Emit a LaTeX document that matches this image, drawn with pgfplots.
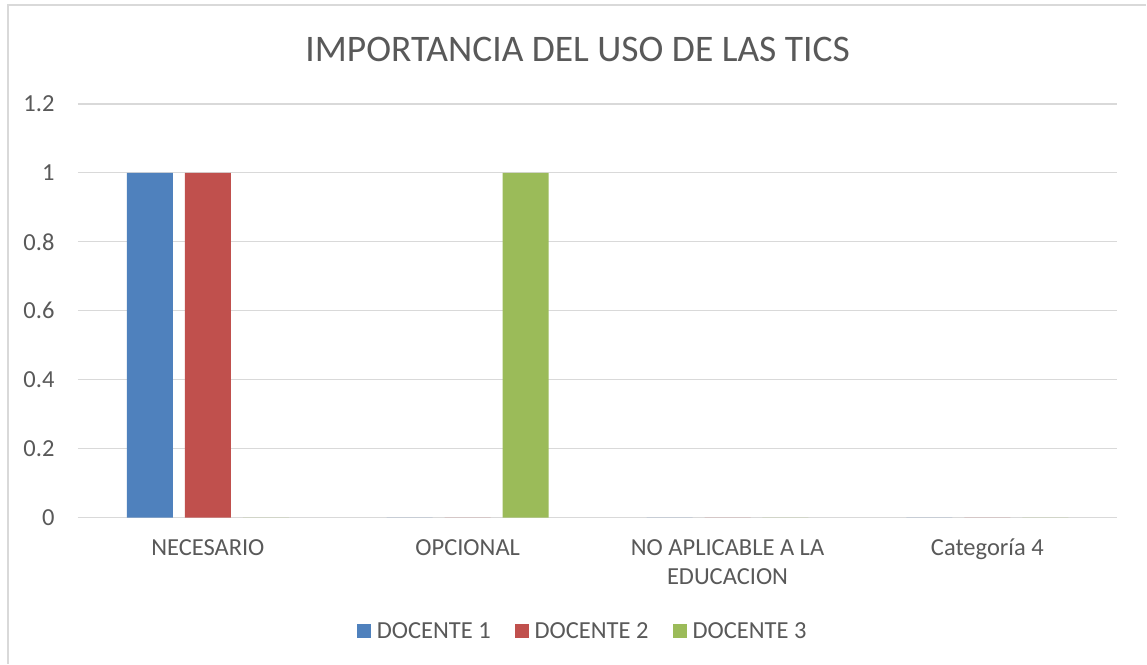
\documentclass[border=0pt]{standalone}
\usepackage{fontspec}
\setmainfont{Carlito}
\usepackage{pgfplots}
\pgfplotsset{compat=1.18}
\definecolor{tc}{HTML}{595959}
\definecolor{gc}{HTML}{D9D9D9}
\definecolor{s1}{HTML}{4F81BD}
\definecolor{s2}{HTML}{C0504D}
\definecolor{s3}{HTML}{9BBB59}
\begin{document}
\begin{tikzpicture}[x=1pt,y=1pt]
\path[fill=white] (0,0) rectangle (1147,664);
\draw[gc,line width=1.5pt] (8,0) -- (8,659) -- (1147,659);
\node[text=tc,font=\fontsize{37.5}{44}\selectfont] at (578,614) {IMPORTANCIA DEL USO DE LAS TICS};
\begin{axis}[
  at={(78pt,146pt)}, anchor=south west,
  scale only axis, width=1040pt, height=414pt,
  ybar=12pt, bar width=46pt,
  xmin=-0.5, xmax=3.5, ymin=0, ymax=1.2,
  xtick=data,
  xticklabels={NECESARIO,OPCIONAL,{NO APLICABLE A LA\\EDUCACION},Categoría 4},
  ytick={0,0.2,0.4,0.6,0.8,1,1.2},
  yticklabels={0,0.2,0.4,0.6,0.8,1,1.2},
  ymajorgrids, grid style={gc,line width=1.2pt},
  axis x line*=bottom, axis y line*=left,
  x axis line style={gc,line width=1.2pt,-},
  y axis line style={draw=none},
  major tick length=0pt,
  tick label style={text=tc,font=\fontsize{24.5}{29}\selectfont},
  xticklabel style={align=center,yshift=-18pt},
  yticklabel style={anchor=east,xshift=-20pt},
  legend columns=3,
  legend style={draw=none,at={(0.4856,-0.2754)},anchor=center,
    font=\fontsize{24.5}{29}\selectfont,text=tc,
    /tikz/every odd column/.append style={column sep=4pt},
    /tikz/every even column/.append style={column sep=22pt}},
  legend image code/.code={\fill[#1] (0pt,-6.5pt) rectangle (14pt,7.5pt);},
]
\addplot[fill=s1,draw=none] coordinates {(0,1) (1,0) (2,0) (3,0)};
\addplot[fill=s2,draw=none] coordinates {(0,1) (1,0) (2,0) (3,0)};
\addplot[fill=s3,draw=none] coordinates {(0,0) (1,1) (2,0) (3,0)};
\legend{DOCENTE 1,DOCENTE 2,DOCENTE 3}
\end{axis}
\end{tikzpicture}
\end{document}
